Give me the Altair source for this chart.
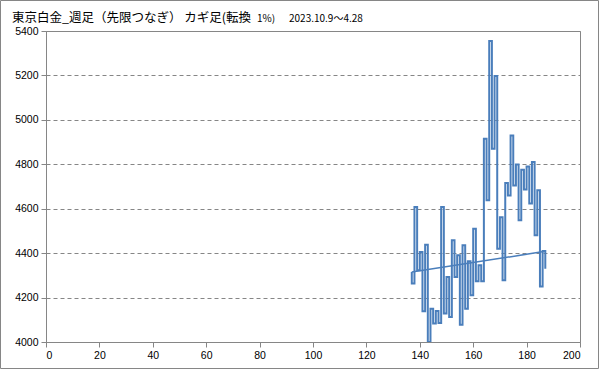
import altair as alt
import pandas as pd

# ---- data ----
title_main = "東京白金_週足（先限つなぎ） カギ足(転換"
title_small = "1%)"
title_date = "2023.10.9～4.28"

x_ticks = [0, 20, 40, 60, 80, 100, 120, 140, 160, 180, 200]
y_ticks = [4000, 4200, 4400, 4600, 4800, 5000, 5200, 5400]

kagi_x0 = 137
kagi_start = 4315
kagi_levels = [4263, 4608, 4323, 4405, 4138, 4438, 4000, 4150, 4083, 4140,
               4085, 4608, 4128, 4293, 4113, 4458, 4293, 4390, 4078, 4435,
               4150, 4363, 4210, 4510, 4273, 4345, 4273, 4915, 4638, 5355,
               4870, 5197, 4420, 4562, 4278, 4716, 4660, 4930, 4705, 4799,
               4548, 4775, 4686, 4790, 4623, 4810, 4480, 4683, 4250, 4410,
               4330]

trend_x = [137, 187]
trend_y = [4315, 4408]

# ---- build kagi vertices ----
rows = []
prev = kagi_start
for i, lv in enumerate(kagi_levels):
    xx = kagi_x0 + i
    rows.append({"x": xx, "y": prev})
    rows.append({"x": xx, "y": lv})
    prev = lv
for k, r in enumerate(rows):
    r["o"] = k
kagi_df = pd.DataFrame(rows)
trend_df = pd.DataFrame({"x": trend_x, "y": trend_y})

BLUE = "#4a7ebb"
GRAY = "#868686"

xscale = alt.Scale(domain=[0, 200], nice=False, zero=False)
yscale = alt.Scale(domain=[4000, 5400], nice=False, zero=False)

xaxis = alt.Axis(values=x_ticks, grid=False, title=None, tickSize=5, format="d",
                 labelPadding=3, domainColor=GRAY, tickColor=GRAY)
yaxis = alt.Axis(values=y_ticks, grid=True, gridDash=[4, 3], gridColor=GRAY,
                 title=None, tickSize=5, labelPadding=3, domainColor=GRAY,
                 tickColor=GRAY, format="d")

kagi = alt.Chart(kagi_df).mark_line(color=BLUE, strokeWidth=2,
                                     strokeJoin="miter", clip=True).encode(
    x=alt.X("x:Q", scale=xscale, axis=xaxis),
    y=alt.Y("y:Q", scale=yscale, axis=yaxis),
    order="o:Q",
)

trend = alt.Chart(trend_df).mark_line(color=BLUE, strokeWidth=1.5).encode(
    x=alt.X("x:Q", scale=xscale),
    y=alt.Y("y:Q", scale=yscale),
)

one = pd.DataFrame({"a": [0]})
t1 = alt.Chart(one).mark_text(text=title_main, align="left", baseline="alphabetic",
                              font="Noto Sans CJK JP", fontSize=12.5,
                              color="black").encode(
    x=alt.value(-34), y=alt.value(-9))
t2 = alt.Chart(one).mark_text(text=title_small, align="left", baseline="alphabetic",
                              font="Noto Sans CJK JP", fontSize=10,
                              color="black").encode(
    x=alt.value(211), y=alt.value(-9))
t3 = alt.Chart(one).mark_text(text=title_date, align="left", baseline="alphabetic",
                              font="Noto Sans CJK JP", fontSize=10,
                              color="black").encode(
    x=alt.value(243), y=alt.value(-9))

frame = alt.Chart(one).mark_rect(fillOpacity=0, stroke=GRAY, strokeWidth=1).encode(
    x=alt.value(-45.5), x2=alt.value(552.5), y=alt.value(-30.5), y2=alt.value(337.5))

chart = alt.layer(kagi, trend, t1, t2, t3, frame).properties(
    width=534, height=311,
    autosize=alt.AutoSizeParams(type="none"),
    padding={"left": 46, "top": 31, "right": 19, "bottom": 27},
    background="white",
).configure_view(stroke=GRAY, strokeWidth=1).configure_axis(
    labelFont="Liberation Sans", labelFontSize=10.5, labelColor="black"
)

chart.save("out.html", embed_options={"renderer": "svg", "actions": False})
